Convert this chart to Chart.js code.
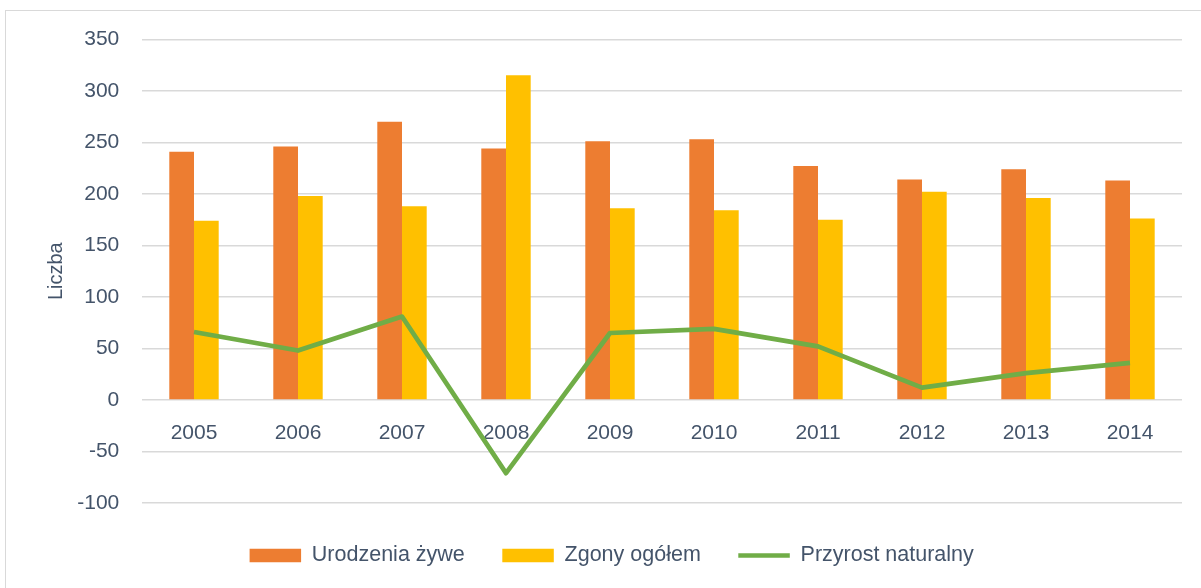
<!DOCTYPE html>
<html>
<head>
<meta charset="utf-8">
<script src="https://cdn.jsdelivr.net/npm/chart.js@4/dist/chart.umd.min.js"></script>
<style>
  html, body { margin: 0; padding: 0; background: #fff; }
  #wrap { position: relative; width: 1201px; height: 588px; overflow: hidden; }
  #frame {
    position: absolute; left: 5px; top: 10px; width: 1300px; height: 700px;
    border-left: 1.5px solid #d9d9d9; border-top: 1.5px solid #d9d9d9;
    pointer-events: none;
  }
  canvas { position: absolute; left: 0; top: 0; }
</style>
</head>
<body>
<div id="wrap">
  <canvas id="chart" width="1201" height="588"></canvas>
  <div id="frame"></div>
</div>
<script>
const years = ["2005", "2006", "2007", "2008", "2009", "2010", "2011", "2012", "2013", "2014"];
const births = [241, 246, 270, 244, 251, 253, 227, 214, 224, 213];
const deaths = [174, 198, 188, 315, 186, 184, 175, 202, 196, 176];
const growth = [66, 48, 81, -71, 65, 69, 52, 12, 26, 36];

const TEXT = "#44546a";

Chart.defaults.font.family = "'Liberation Sans', Arial, sans-serif";
Chart.defaults.font.size = 21;
Chart.defaults.color = TEXT;

const data = {
  labels: years,
  datasets: [
    {
      type: "bar",
      label: "Urodzenia żywe",
      data: births,
      backgroundColor: "#ed7d31",
      borderWidth: 0,
      pointStyle: "rect",
      order: 1,
    },
    {
      type: "bar",
      label: "Zgony ogółem",
      data: deaths,
      backgroundColor: "#ffc000",
      borderWidth: 0,
      pointStyle: "rect",
      order: 1,
    },
    {
      type: "line",
      label: "Przyrost naturalny",
      data: growth,
      borderColor: "#70ad47",
      backgroundColor: "#70ad47",
      borderWidth: 4.7,
      borderJoinStyle: "round",
      pointRadius: 0,
      pointStyle: "line",
      tension: 0,
      order: 0,
    },
  ],
};

const options = {
  animation: false,
  responsive: false,
  datasets: {
    bar: { categoryPercentage: 0.475, barPercentage: 1.0 },
  },
  layout: {
    padding: { left: 41.4, right: 19, top: 39.3, bottom: 11.75 },
  },
  plugins: {
    tooltip: { enabled: false },
    legend: {
      position: "bottom",
      align: "center",
      // empty title only pushes the legend row down a little
      title: { display: true, text: "", padding: { top: 3, bottom: 0 }, font: { size: 1 } },
      labels: {
        usePointStyle: true,
        pointStyleWidth: 51.5,
        boxHeight: 13.4,
        padding: 37.5,
        font: { size: 21.5 },
        color: TEXT,
        sort: (a, b) => a.datasetIndex - b.datasetIndex,
      },
    },
  },
  scales: {
    x: {
      position: { y: 0 },
      grid: { display: false, drawTicks: false },
      border: { display: false },
      ticks: { padding: 20.6, maxRotation: 0, color: TEXT },
    },
    y: {
      min: -100,
      max: 350,
      afterFit: (scale) => { scale.width = 100.6; },
      ticks: { stepSize: 50, padding: 22.7, color: TEXT },
      grid: { color: "#d9d9d9", lineWidth: 1.5, drawTicks: false },
      border: { display: false },
      title: {
        display: true,
        text: "Liczba",
        color: TEXT,
        font: { size: 20 },
        padding: { top: 2.6, bottom: 0 },
      },
    },
  },
};

new Chart(document.getElementById("chart"), { type: "bar", data: data, options: options });
</script>
</body>
</html>
